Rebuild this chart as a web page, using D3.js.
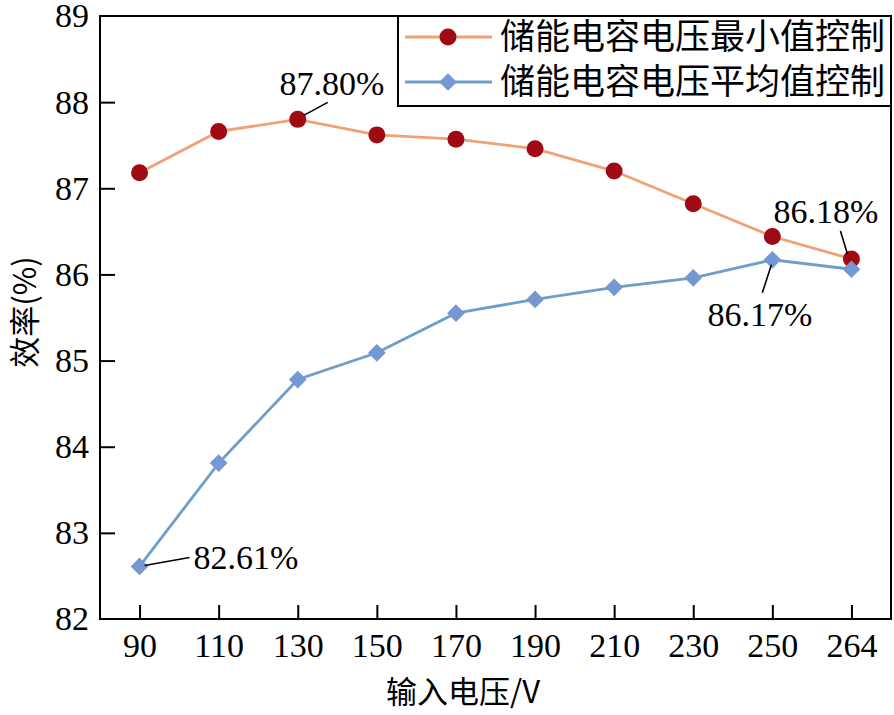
<html>
<head>
<script src="https://d3js.org/d3.v7.min.js"></script>
<style>
  body { margin: 0; background: #fff; }
  text { font-family: "Liberation Serif", "Times New Roman", serif; }
  .cjk { font-family: "Noto Sans CJK SC", sans-serif; }
</style>
</head>
<body>
<svg id="A" width="894" height="715"></svg>
<script>
// data
const voltages = ["90", "110", "130", "150", "170", "190", "210", "230", "250", "264"];
const minCtrl = [87.18, 87.66, 87.80, 87.62, 87.57, 87.46, 87.20, 86.82, 86.44, 86.18];
const avgCtrl = [82.61, 83.81, 84.78, 85.09, 85.55, 85.71, 85.85, 85.96, 86.17, 86.06];
const yTicks = [82, 83, 84, 85, 86, 87, 88, 89];
const seriesNames = ["储能电容电压最小值控制", "储能电容电压平均值控制"];

let svg = d3.select("svg#A");
const plotLeft = 100, plotRight = 891, plotTop = 16, plotBottom = 619;

const x = d3.scalePoint().domain(voltages).range([plotLeft, plotRight]).padding(0.5);
const y = d3.scaleLinear().domain([82, 89]).range([plotBottom, plotTop]);

// frame
svg.append("rect")
  .attr("x", plotLeft).attr("y", plotTop)
  .attr("width", plotRight - plotLeft).attr("height", plotBottom - plotTop)
  .attr("fill", "none").attr("stroke", "#000").attr("stroke-width", 2);

// y axis, ticks pointing inward
let yAxis = svg.append("g")
  .attr("transform", `translate(${plotLeft},0)`)
  .call(d3.axisLeft(y).tickValues(yTicks).tickSizeInner(-15).tickSizeOuter(0).tickPadding(10).tickFormat(d3.format("d")));
yAxis.select(".domain").remove();
yAxis.selectAll("line").attr("stroke-width", 2).attr("stroke", "#000");
yAxis.selectAll("text").attr("font-size", 34).attr("fill", "#000").attr("x", -11);
yAxis.selectAll(".tick").filter(d => d == 89 || d == 82).select("line").remove();

// x axis
let xAxis = svg.append("g")
  .attr("transform", `translate(0,${plotBottom})`)
  .call(d3.axisBottom(x).tickSizeInner(-14).tickSizeOuter(0).tickPadding(10));
xAxis.select(".domain").remove();
xAxis.selectAll("line").attr("stroke-width", 2).attr("stroke", "#000");
xAxis.selectAll("text").attr("font-size", 34).attr("fill", "#000")
  .attr("y", 38).attr("dy", null);

// axis titles
svg.append("text").attr("class", "cjk")
  .attr("transform", "translate(36,312) rotate(-90)")
  .attr("text-anchor", "middle").attr("font-size", 31)
  .text("效率(%)");
svg.append("text").attr("class", "cjk")
  .attr("x", 463).attr("y", 703)
  .attr("text-anchor", "middle").attr("font-size", 31)
  .text("输入电压/V");

const line = d3.line().x((d, i) => x(voltages[i])).y(d => y(d));

// orange series
svg.append("path").datum(minCtrl)
  .attr("d", line).attr("fill", "none")
  .attr("stroke", "#F0A276").attr("stroke-width", 2.8);
svg.selectAll("circle.min").data(minCtrl).enter().append("circle")
  .attr("class", "min")
  .attr("cx", (d, i) => x(voltages[i])).attr("cy", d => y(d))
  .attr("r", 8.5).attr("fill", "#A00A12");

// blue series
svg.append("path").datum(avgCtrl)
  .attr("d", line).attr("fill", "none")
  .attr("stroke", "#6E9FCB").attr("stroke-width", 2.8);
const diamond = d3.symbol().type(d3.symbolDiamond2).size(200);
svg.selectAll("path.avg").data(avgCtrl).enter().append("path")
  .attr("class", "avg")
  .attr("transform", (d, i) => `translate(${x(voltages[i])},${y(d)})`)
  .attr("d", diamond).attr("fill", "#7398D4");

// annotations: leader start/end offsets from the point, then text position
const notes = [
  { s: minCtrl, i: 2, a: [6, -4], b: [30, -17], t: [332, 95] },
  { s: minCtrl, i: 9, a: [-4, -5], b: [-11, -28], t: [826, 223] },
  { s: avgCtrl, i: 8, a: [-1, 5], b: [-10, 33], t: [760, 326] },
  { s: avgCtrl, i: 0, a: [5, -1], b: [50, -9], t: [246, 569] }
];
notes.forEach(n => {
  const px = x(voltages[n.i]), py = y(n.s[n.i]);
  svg.append("line")
    .attr("x1", px + n.a[0]).attr("y1", py + n.a[1])
    .attr("x2", px + n.b[0]).attr("y2", py + n.b[1])
    .attr("stroke", "#000").attr("stroke-width", 1.6);
  svg.append("text")
    .attr("x", n.t[0]).attr("y", n.t[1])
    .attr("text-anchor", "middle").attr("font-size", 34)
    .text(n.s[n.i].toFixed(2) + "%");
});

// legend
svg.append("rect")
  .attr("x", 398).attr("y", plotTop)
  .attr("width", plotRight - 398).attr("height", 90)
  .attr("fill", "#fff").attr("stroke", "#000").attr("stroke-width", 2);
const legendColors = [["#F0A276", "#A00A12"], ["#6E9FCB", "#7398D4"]];
seriesNames.forEach((name, k) => {
  const ly = 37 + k * 45;
  svg.append("line")
    .attr("x1", 405).attr("x2", 492).attr("y1", ly).attr("y2", ly)
    .attr("stroke", legendColors[k][0]).attr("stroke-width", 2.8);
  if (k == 0) {
    svg.append("circle").attr("cx", 448).attr("cy", ly).attr("r", 8.5)
      .attr("fill", legendColors[k][1]);
  } else {
    svg.append("path").attr("transform", `translate(448,${ly})`)
      .attr("d", diamond).attr("fill", legendColors[k][1]);
  }
  svg.append("text").attr("class", "cjk")
    .attr("x", 500).attr("y", ly + 12)
    .attr("font-size", 35)
    .attr("textLength", 385).attr("lengthAdjust", "spacing")
    .text(name);
});
</script>
</body>
</html>
